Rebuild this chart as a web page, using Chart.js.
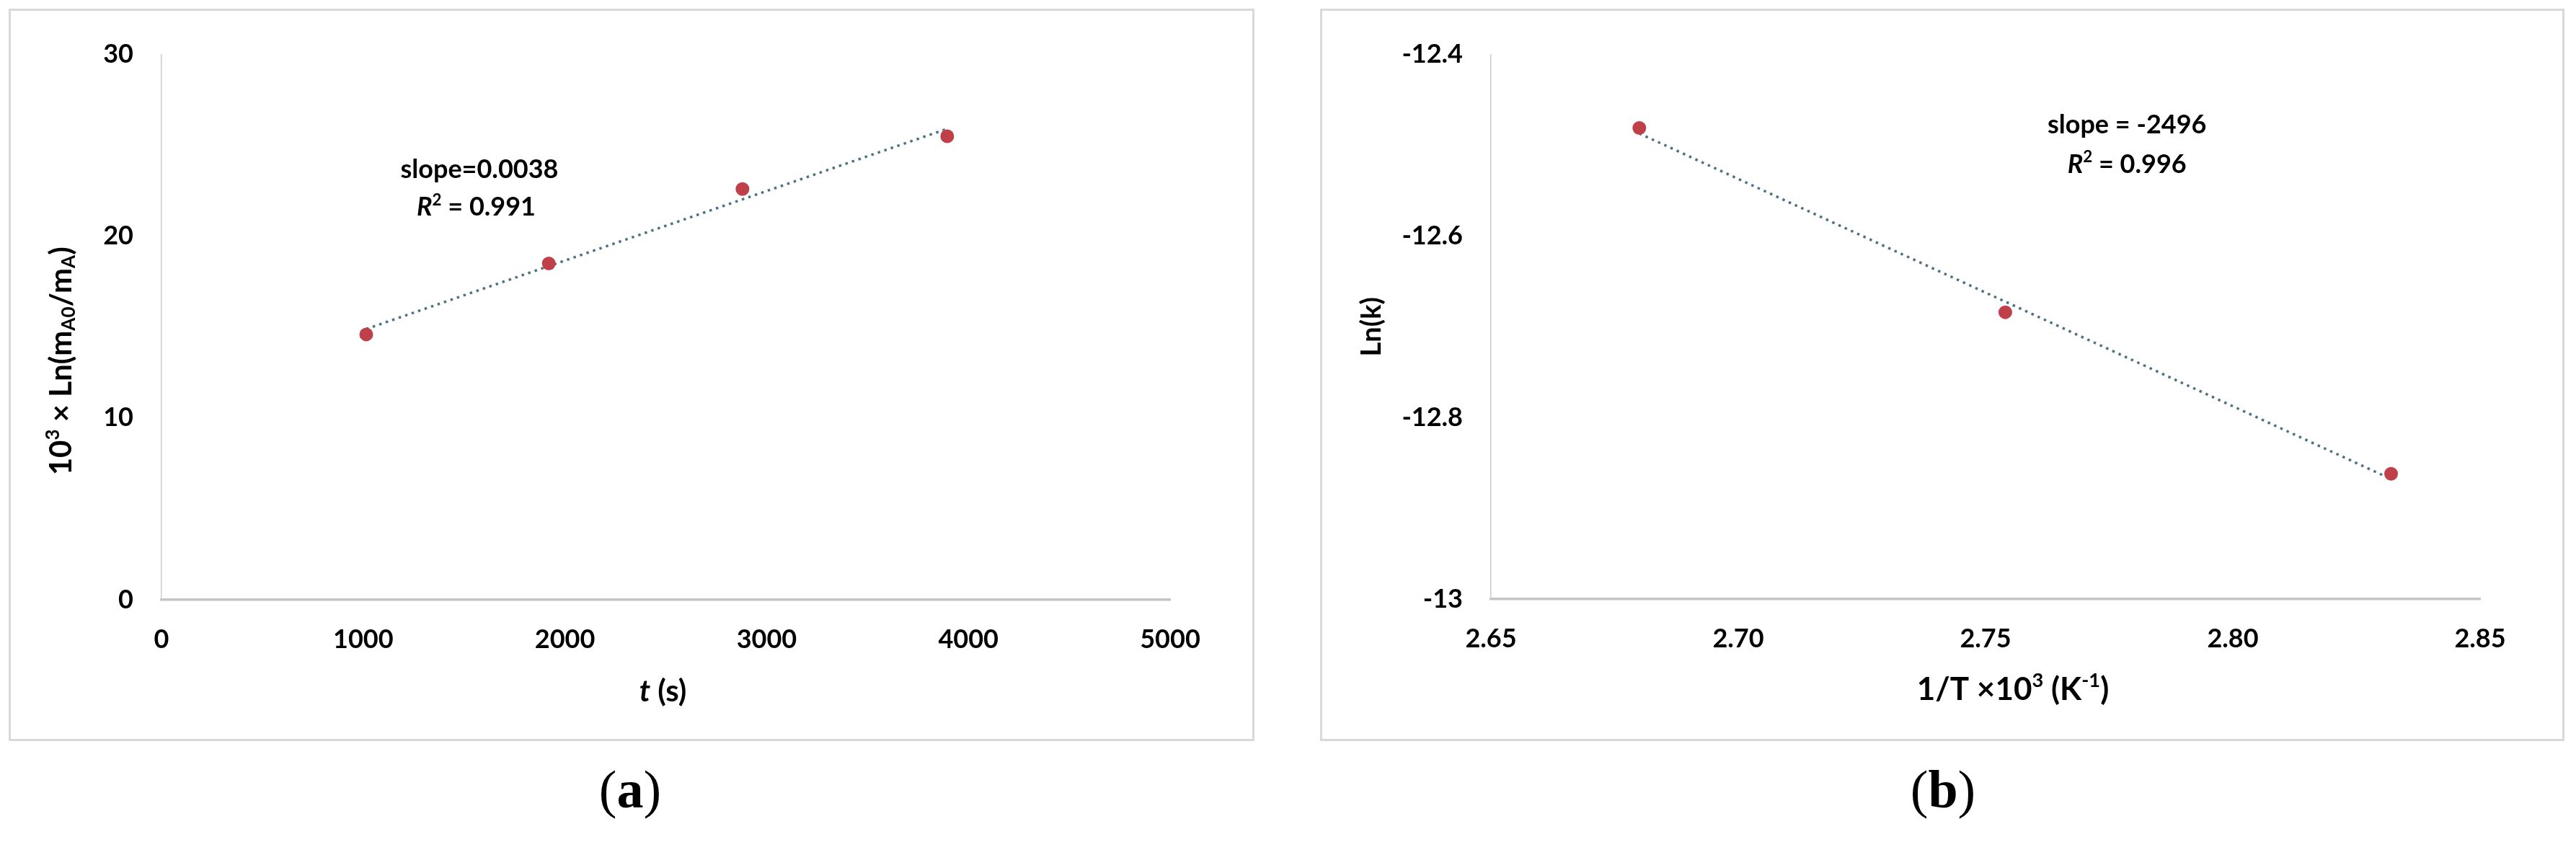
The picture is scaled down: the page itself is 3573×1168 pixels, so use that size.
<!DOCTYPE html>
<html>
<head>
<meta charset="utf-8">
<script src="https://cdn.jsdelivr.net/npm/chart.js@4.4.0/dist/chart.umd.min.js"></script>
<style>
    body { margin: 0; background: #fff; width: 3573px; height: 1168px; position: relative; overflow: hidden; }
    .panel { position: absolute; box-sizing: border-box; border: 3px solid #d9d9d9; background: #fff; }
    .panel canvas { display: block; }
    .cap { position: absolute; top: 1050px; width: 200px; text-align: center; font-family: "Liberation Serif", serif; font-size: 74px; line-height: 90px; color: #000; }
</style>
</head>
<body>
<div class="panel" style="left:12px;top:12px;width:1728px;height:1016px"><canvas id="chartA"></canvas></div>
<div class="panel" style="left:1831px;top:12px;width:1726px;height:1016px"><canvas id="chartB"></canvas></div>
<div class="cap" style="left:774px">(<b>a</b>)</div>
<div class="cap" style="left:2595px">(<b>b</b>)</div>

<script>
// (a) conversion vs time
const timeS = [1015, 1920, 2880, 3895];
const lnRatio = [14.6, 18.5, 22.6, 25.5];
const xTicksA = [0, 1000, 2000, 3000, 4000, 5000];
const yTicksA = [0, 10, 20, 30];

// (b) Arrhenius plot
const invT = [2.680, 2.754, 2.832];
const lnK = [-12.481, -12.684, -12.862];
const xTicksB = [2.65, 2.70, 2.75, 2.80, 2.85];
const yTicksB = [-13, -12.8, -12.6, -12.4];

const FONT = 'Lato';
const POINT_COLOR = '#c0404a';
const TREND_COLOR = '#4f7282';

// least squares line over the data range (Excel style trendline)
function trendLine(xs, ys) {
    const n = xs.length;
    const mx = xs.reduce((a, b) => a + b, 0) / n;
    const my = ys.reduce((a, b) => a + b, 0) / n;
    let sxy = 0, sxx = 0;
    xs.forEach((x, i) => { sxy += (x - mx) * (ys[i] - my); sxx += (x - mx) * (x - mx); });
    const b = sxy / sxx, a = my - b * mx;
    const x0 = Math.min(...xs), x1 = Math.max(...xs);
    return [{ x: x0, y: a + b * x0 }, { x: x1, y: a + b * x1 }];
}

// draws text made of parts (italic / superscript / subscript pieces)
function drawRich(ctx, parts, x, y, size, rotate) {
    ctx.save();
    ctx.translate(x, y);
    if (rotate) ctx.rotate(-Math.PI / 2);
    ctx.textBaseline = 'middle';
    ctx.textAlign = 'left';
    ctx.fillStyle = '#000';
    const fontFor = p => {
        const s = p.script ? size * 0.62 : size;
        return (p.italic ? 'italic ' : '') + (p.weight || 'bold') + ' ' + s + 'px ' + FONT;
    };
    let w = 0;
    parts.forEach(p => { ctx.font = fontFor(p); p._w = ctx.measureText(p.t).width; w += p._w; });
    let cx = -w / 2;
    parts.forEach(p => {
        ctx.font = fontFor(p);
        const dy = p.script === 'sup' ? -size * 0.28 : p.script === 'sub' ? size * 0.26 : 0;
        ctx.fillText(p.t, cx, dy);
        cx += p._w;
    });
    ctx.restore();
}

const richText = {
    id: 'richText',
    afterDraw(chart, args, opts) {
        const ctx = chart.ctx, area = chart.chartArea;
        const xs = chart.scales.x, ys = chart.scales.y;
        (opts.items || []).forEach(item => {
            let x, y;
            if (item.at === 'data') {
                x = xs.getPixelForValue(item.x);
                y = ys.getPixelForValue(item.y);
            } else if (item.at === 'yTitle') {
                x = area.left + item.dx;
                y = (area.top + area.bottom) / 2 + (item.dy || 0);
            } else {
                x = (area.left + area.right) / 2 + (item.dx || 0);
                y = area.bottom + item.dy;
            }
            drawRich(ctx, item.parts, x, y, item.size, item.rotate);
        });
    }
};

function makeChart(id, cfg) {
    const ctx = document.getElementById(id).getContext('2d');
    return new Chart(ctx, {
        type: 'scatter',
        data: {
            datasets: [{
                data: cfg.xs.map((x, i) => ({ x: x, y: cfg.ys[i] })),
                backgroundColor: POINT_COLOR,
                borderColor: POINT_COLOR,
                borderWidth: 0,
                pointRadius: 9.5
            }, {
                data: trendLine(cfg.xs, cfg.ys),
                showLine: true,
                borderColor: TREND_COLOR,
                borderWidth: 3.5,
                borderDash: [3.5, 6],
                pointRadius: 0
            }]
        },
        options: {
            responsive: true,
            maintainAspectRatio: false,
            animation: false,
            layout: { padding: cfg.padding },
            plugins: {
                legend: { display: false },
                tooltip: { enabled: false },
                richText: { items: cfg.texts }
            },
            scales: {
                x: {
                    type: 'linear',
                    min: cfg.xTicks[0],
                    max: cfg.xTicks[cfg.xTicks.length - 1],
                    afterBuildTicks: s => { s.ticks = cfg.xTicks.map(v => ({ value: v })); },
                    afterFit: s => { s.height = cfg.xHeight; },
                    grid: { display: false, drawTicks: false },
                    border: { display: true, color: '#c4c4c4', width: 3.5 },
                    ticks: {
                        padding: 34,
                        color: '#000',
                        font: { family: FONT, weight: 'bold', size: 36 },
                        callback: cfg.xFormat
                    }
                },
                y: {
                    type: 'linear',
                    min: cfg.yTicks[0],
                    max: cfg.yTicks[cfg.yTicks.length - 1],
                    afterBuildTicks: s => { s.ticks = cfg.yTicks.map(v => ({ value: v })); },
                    afterFit: s => { s.width = cfg.yWidth; },
                    grid: { display: false, drawTicks: false },
                    border: { display: true, color: '#cccccc', width: 1.5 },
                    ticks: {
                        padding: 39,
                        color: '#000',
                        font: { family: FONT, weight: 'bold', size: 36 },
                        callback: cfg.yFormat
                    }
                }
            }
        },
        plugins: [richText]
    });
}

makeChart('chartA', {
    xs: timeS, ys: lnRatio, xTicks: xTicksA, yTicks: yTicksA,
    padding: { left: 0, right: 114, top: 48, bottom: 0 },
    yWidth: 209, xHeight: 193,
    xFormat: v => String(v),
    yFormat: v => String(v),
    texts: [
        { at: 'data', x: 1576, y: 23.67, size: 36, parts: [{ t: 'slope=0.0038' }] },
        { at: 'data', x: 1560, y: 21.6, size: 36, parts: [{ t: 'R', italic: true }, { t: '2', script: 'sup' }, { t: ' = 0.991' }] },
        { at: 'xTitle', dx: -4, dy: 127, size: 42, parts: [{ t: 't', italic: true }, { t: ' (s)' }] },
        { at: 'yTitle', dx: -139, dy: 47, size: 42, rotate: true, parts: [
            { t: '10' }, { t: '3', script: 'sup' }, { t: ' × Ln(m' }, { t: 'A0', script: 'sub' },
            { t: '/m' }, { t: 'A', script: 'sub' }, { t: ')' }
        ] }
    ]
});

makeChart('chartB', {
    xs: invT, ys: lnK, xTicks: xTicksB, yTicks: yTicksB,
    padding: { left: 0, right: 114, top: 42, bottom: 0 },
    yWidth: 234, xHeight: 194,
    xFormat: v => v.toFixed(2),
    yFormat: v => String(+v.toFixed(1)),
    texts: [
        { at: 'data', x: 2.7786, y: -12.478, size: 36, parts: [{ t: 'slope = -2496' }] },
        { at: 'data', x: 2.7786, y: -12.521, size: 36, parts: [{ t: 'R', italic: true }, { t: '2', script: 'sup' }, { t: ' = 0.996' }] },
        { at: 'xTitle', dx: 38, dy: 126, size: 44, parts: [{ t: '1/T ×10' }, { t: '3', script: 'sup' }, { t: ' (K' }, { t: '-1', script: 'sup' }, { t: ')' }] },
        { at: 'yTitle', dx: -165, dy: 0, size: 38, rotate: true, parts: [{ t: 'Ln(k)' }] }
    ]
});
</script>
</body>
</html>
